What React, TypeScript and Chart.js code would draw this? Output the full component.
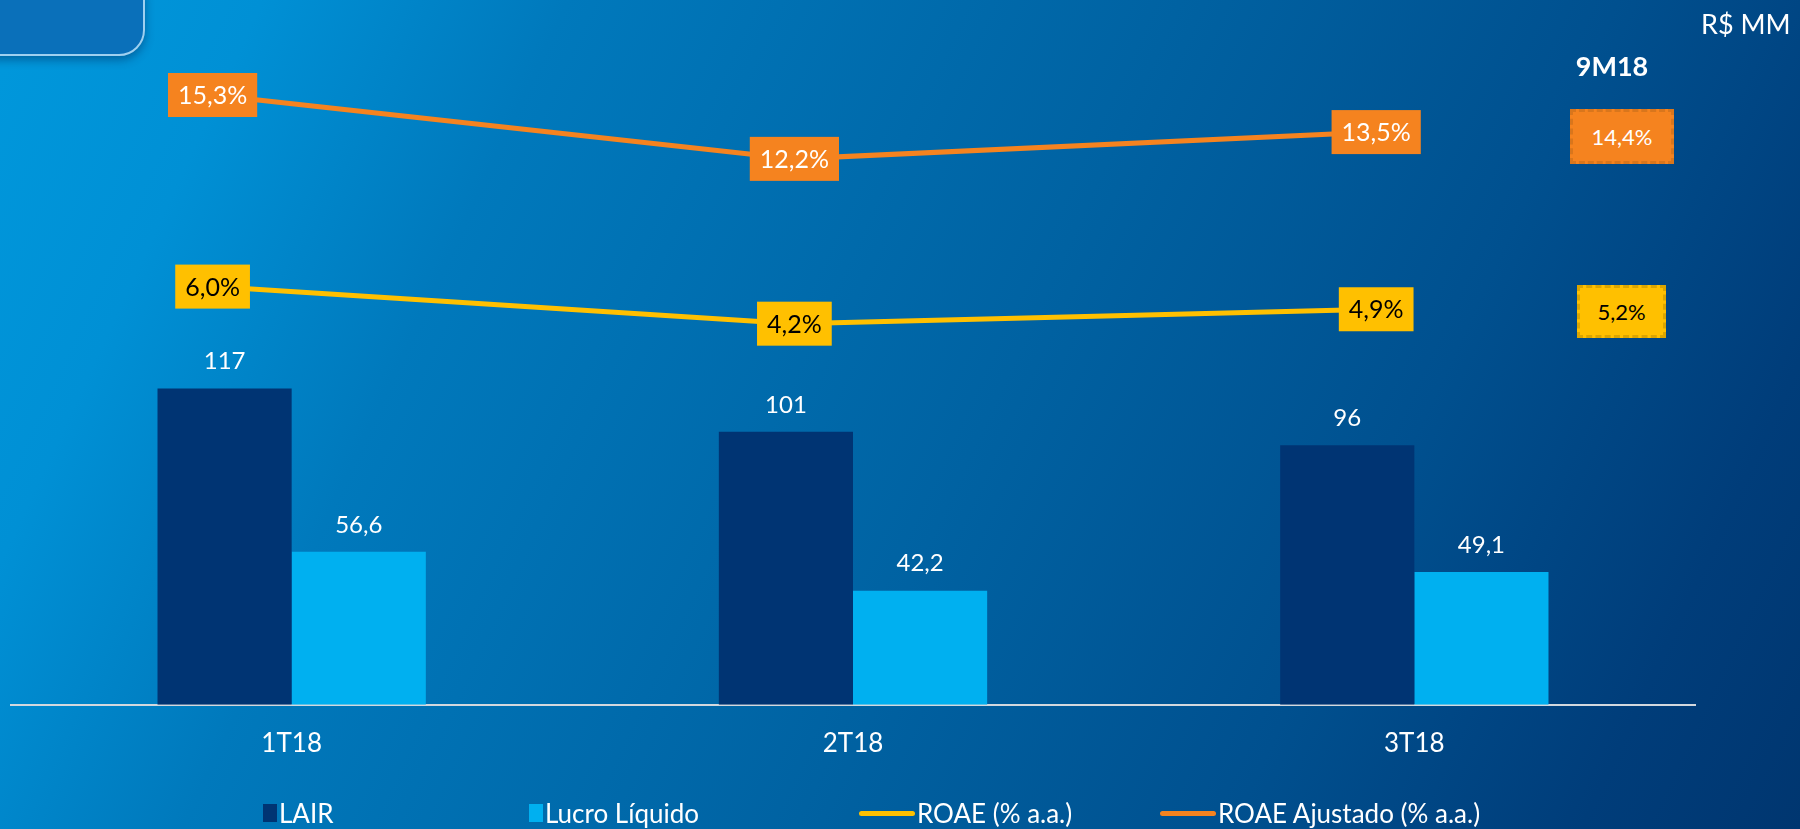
import React, { useEffect, useRef } from "react";
import { Chart, registerables } from "chart.js";

Chart.register(...registerables);

// ---- data ----
const categories = ["1T18", "2T18", "3T18"];
const lair = [117, 101, 96];
const lucroLiquido = [56.6, 42.2, 49.1];
const roae = [6.0, 4.2, 4.9];
const roaeAjustado = [15.3, 12.2, 13.5];
const summaryLabel = "9M18";
const roae9M = [5.2];
const roaeAjustado9M = [14.4];
const unitLabel = "R$ MM";

const seriesNames = ["LAIR", "Lucro Líquido", "ROAE (% a.a.)", "ROAE Ajustado (% a.a.)"];
const seriesColors = ["#003473", "#00B0F0", "#FFC000", "#F5831F"];

const FONT = "Lato, 'Open Sans', sans-serif";

const fmt = (v: number, d: number) => v.toFixed(d).replace(".", ",");

const labelPlugin = {
  id: "valueLabels",
  afterDatasetsDraw(chart: any) {
    const ctx = chart.ctx;
    ctx.save();
    chart.data.datasets.forEach((ds: any, di: number) => {
      const meta = chart.getDatasetMeta(di);
      meta.data.forEach((el: any, i: number) => {
        if (ds.type === "bar") {
          const v = ds.data[i];
          const txt = ds.label === seriesNames[0] ? fmt(v, 0) : fmt(v, 1);
          ctx.font = `24px ${FONT}`;
          ctx.fillStyle = "#ffffff";
          ctx.textAlign = "center";
          ctx.textBaseline = "middle";
          ctx.fillText(txt, el.x, el.y - 27);
        } else {
          const v = ds.data[i].y;
          const txt = fmt(v, 1) + "%";
          ctx.font = `25px ${FONT}`;
          const w = ctx.measureText(txt).width + 20;
          const h = 44;
          ctx.fillStyle = ds.borderColor;
          ctx.fillRect(el.x - w / 2, el.y - h / 2, w, h);
          ctx.fillStyle = ds.labelTextColor;
          ctx.textAlign = "center";
          ctx.textBaseline = "middle";
          ctx.fillText(txt, el.x, el.y + 1);
        }
      });
    });
    ctx.restore();
  },
};

export default function App() {
  const canvasRef = useRef<HTMLCanvasElement | null>(null);

  useEffect(() => {
    if (!canvasRef.current) return;
    const chart = new Chart(canvasRef.current, {
      type: "bar",
      data: {
        labels: categories,
        datasets: [
          {
            type: "line",
            label: seriesNames[2],
            data: roae.map((v, i) => ({ x: i, y: v })),
            borderColor: seriesColors[2],
            labelTextColor: "#000000",
            borderWidth: 5,
            pointRadius: 0,
            xAxisID: "x2",
            yAxisID: "y2",
          } as any,
          {
            type: "line",
            label: seriesNames[3],
            data: roaeAjustado.map((v, i) => ({ x: i, y: v })),
            borderColor: seriesColors[3],
            labelTextColor: "#ffffff",
            borderWidth: 5,
            pointRadius: 0,
            xAxisID: "x2",
            yAxisID: "y2",
          } as any,
          {
            type: "bar",
            label: seriesNames[0],
            data: lair,
            backgroundColor: seriesColors[0],
            xAxisID: "x",
            yAxisID: "y",
            categoryPercentage: 0.956,
            barPercentage: 1,
          } as any,
          {
            type: "bar",
            label: seriesNames[1],
            data: lucroLiquido,
            backgroundColor: seriesColors[1],
            xAxisID: "x",
            yAxisID: "y",
            categoryPercentage: 0.956,
            barPercentage: 1,
          } as any,
        ],
      },
      options: {
        responsive: false,
        animation: false,
        layout: { padding: { left: 11, right: 105, top: 40, bottom: 47 } },
        plugins: { legend: { display: false }, tooltip: { enabled: false }, title: { display: false } },
        scales: {
          x: {
            type: "category",
            offset: true,
            grid: { display: false, drawTicks: false, tickLength: 0 },
            border: { display: true, color: "#d3d8de", width: 2 },
            ticks: { color: "#ffffff", font: { family: FONT, size: 26 }, padding: 23 },
          },
          x2: {
            type: "linear",
            display: false,
            offset: false,
            grid: { offset: false },
            min: -0.3465,
            max: 2.548,
          },
          y: { display: false, min: 0, max: 246 },
          y2: { display: false, min: -14.3, max: 17.97 },
        },
      } as any,
      plugins: [labelPlugin],
    });
    return () => chart.destroy();
  }, []);

  const legendX = [263, 529, 859, 1160];

  return (
    <div
      style={{
        position: "absolute",
        left: 0,
        top: 0,
        width: 1800,
        height: 829,
        overflow: "hidden",
        fontFamily: FONT,
        background:
          "linear-gradient(115deg, #0098dc 0%, #0090d5 12%, #0079bc 26%, #0062a2 54%, #00508f 74%, #003d7a 90%, #003670 100%)",
      }}
    >
      <div
        style={{
          position: "absolute",
          left: -10,
          top: -10,
          width: 151,
          height: 62,
          borderRadius: "0 0 26px 0",
          border: "2px solid #9fd0f0",
          background: "#0a70ba",
          boxShadow: "0 4px 10px rgba(0,40,90,0.45)",
        }}
      />
      <canvas ref={canvasRef} width={1800} height={829} style={{ position: "absolute", left: 0, top: 0 }} />
      <div style={{ position: "absolute", left: 1701, top: 8, color: "#fff", fontSize: 27, lineHeight: "32px" }}>
        {unitLabel}
      </div>
      <div
        style={{
          position: "absolute",
          left: 1562,
          top: 50,
          width: 100,
          textAlign: "center",
          color: "#fff",
          fontSize: 27,
          fontWeight: 700,
          lineHeight: "32px",
        }}
      >
        {summaryLabel}
      </div>
      <div
        style={{
          position: "absolute",
          left: 1570,
          top: 109,
          width: 104,
          height: 55,
          boxSizing: "border-box",
          border: "3px dashed #d9761c",
          background: seriesColors[3],
          color: "#fff",
          fontSize: 22,
          display: "flex",
          alignItems: "center",
          justifyContent: "center",
        }}
      >
        {fmt(roaeAjustado9M[0], 1) + "%"}
      </div>
      <div
        style={{
          position: "absolute",
          left: 1577,
          top: 285,
          width: 89,
          height: 53,
          boxSizing: "border-box",
          border: "3px dashed #dba500",
          background: seriesColors[2],
          color: "#000",
          fontSize: 22,
          display: "flex",
          alignItems: "center",
          justifyContent: "center",
        }}
      >
        {fmt(roae9M[0], 1) + "%"}
      </div>
      {seriesNames.map((name, i) => (
        <div
          key={name}
          style={{
            position: "absolute",
            left: legendX[i],
            top: 798,
            height: 30,
            display: "flex",
            alignItems: "center",
            color: "#fff",
            fontSize: 26,
            whiteSpace: "nowrap",
          }}
        >
          {i < 2 ? (
            <div style={{ width: 14, height: 18, background: seriesColors[i], marginRight: 2 }} />
          ) : (
            <div style={{ width: 56, height: 5, borderRadius: 3, background: seriesColors[i], marginRight: 2 }} />
          )}
          <span>{name}</span>
        </div>
      ))}
    </div>
  );
}
